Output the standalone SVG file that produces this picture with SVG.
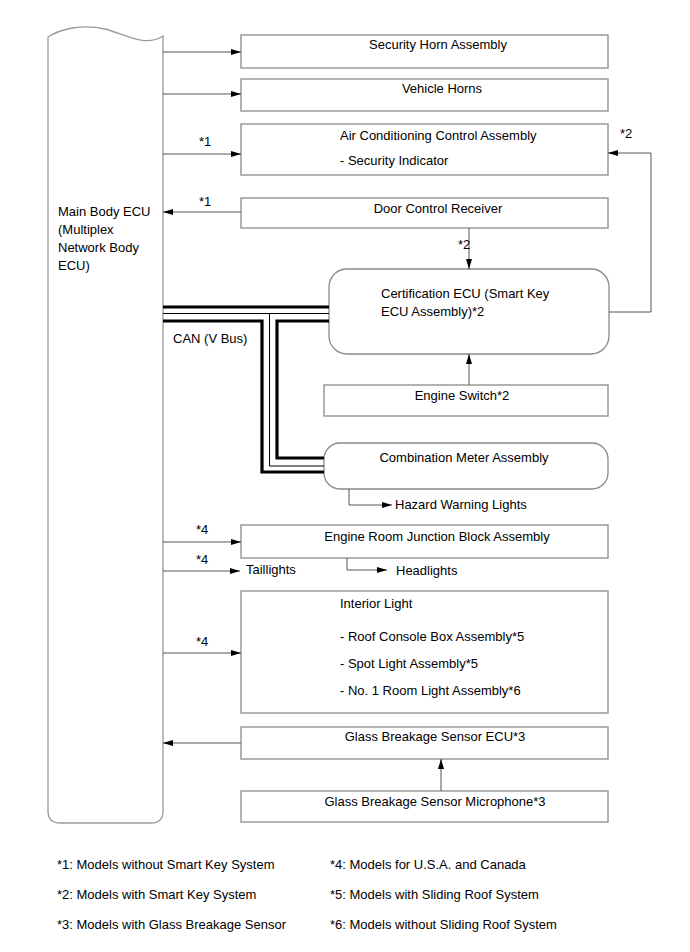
<svg xmlns="http://www.w3.org/2000/svg" width="690" height="952" viewBox="0 0 690 952">
<style>
.box{fill:#fff;stroke:#8a8a8a;stroke-width:1.3}
.ecu{fill:#fff;stroke:#9a9a9a;stroke-width:1.3}
.t{font-family:"Liberation Sans",Arial,sans-serif;font-size:13px;fill:#000}
.c{text-anchor:middle}
.ln{fill:none;stroke:#555;stroke-width:1}
.thk{fill:none;stroke:#000;stroke-width:3.2}
.thn{fill:none;stroke:#000;stroke-width:1}
</style>
<defs>
<marker id="ah" viewBox="0 0 10 6" refX="10" refY="3" markerWidth="10" markerHeight="6" markerUnits="userSpaceOnUse" orient="auto">
<path d="M0,0 L10,3 L0,6 Z" fill="#000"/>
</marker>
</defs>
<rect width="690" height="952" fill="#fff"/>

<g id="main-body-ecu">
<path class="ecu" d="M48,37 C62,28 85,24 105,29 C125,34 145,48 163,36 L163,811 Q163,823 151,823 L60,823 Q48,823 48,811 Z"/>
<text class="t" x="58" y="216">Main Body ECU</text>
<text class="t" x="58" y="234">(Multiplex</text>
<text class="t" x="58" y="252">Network Body</text>
<text class="t" x="58" y="270">ECU)</text>
</g>

<g id="security-horn">
<rect class="box" x="241" y="35" width="367" height="33"/>
<text class="t c" x="438" y="49">Security Horn Assembly</text>
</g>
<g id="vehicle-horns">
<rect class="box" x="241" y="79" width="367" height="32"/>
<text class="t c" x="442" y="93">Vehicle Horns</text>
</g>
<g id="air-conditioning">
<rect class="box" x="241" y="124" width="367" height="51"/>
<text class="t" x="340" y="140">Air Conditioning Control Assembly</text>
<text class="t" x="340" y="165">- Security Indicator</text>
</g>
<g id="door-control-receiver">
<rect class="box" x="241" y="198" width="367" height="30"/>
<text class="t c" x="438" y="213">Door Control Receiver</text>
</g>
<g id="certification-ecu">
<rect class="box" x="329" y="269" width="280" height="85" rx="18"/>
<text class="t" x="381" y="298">Certification ECU (Smart Key</text>
<text class="t" x="381" y="316">ECU Assembly)*2</text>
</g>
<g id="engine-switch">
<rect class="box" x="324" y="385" width="284" height="31"/>
<text class="t c" x="462" y="400">Engine Switch*2</text>
</g>
<g id="combination-meter">
<rect class="box" x="324" y="443" width="284" height="46" rx="16"/>
<text class="t c" x="464" y="462">Combination Meter Assembly</text>
</g>
<g id="engine-room-jb">
<rect class="box" x="241" y="525" width="367" height="33"/>
<text class="t c" x="437" y="541">Engine Room Junction Block Assembly</text>
</g>
<g id="interior-light">
<rect class="box" x="241" y="591" width="367" height="122"/>
<text class="t" x="340" y="608">Interior Light</text>
<text class="t" x="340" y="641">- Roof Console Box Assembly*5</text>
<text class="t" x="340" y="668">- Spot Light Assembly*5</text>
<text class="t" x="340" y="695">- No. 1 Room Light Assembly*6</text>
</g>
<g id="glass-breakage-ecu">
<rect class="box" x="241" y="727" width="367" height="32"/>
<text class="t c" x="435" y="741">Glass Breakage Sensor ECU*3</text>
</g>
<g id="glass-breakage-mic">
<rect class="box" x="241" y="791" width="367" height="31"/>
<text class="t c" x="435" y="806">Glass Breakage Sensor Microphone*3</text>
</g>

<g id="connectors">
<line class="ln" x1="163" y1="52" x2="241" y2="52" marker-end="url(#ah)"/>
<line class="ln" x1="163" y1="94" x2="241" y2="94" marker-end="url(#ah)"/>
<line class="ln" x1="163" y1="154" x2="241" y2="154" marker-end="url(#ah)"/>
<line class="ln" x1="241" y1="212" x2="163" y2="212" marker-end="url(#ah)"/>
<line class="ln" x1="469" y1="228" x2="469" y2="269" marker-end="url(#ah)"/>
<polyline class="ln" points="609,312 651,312 651,153 608,153" marker-end="url(#ah)"/>
<line class="ln" x1="469" y1="385" x2="469" y2="354" marker-end="url(#ah)"/>
<polyline class="ln" points="349,489 349,505 392,505" marker-end="url(#ah)"/>
<line class="ln" x1="163" y1="542" x2="241" y2="542" marker-end="url(#ah)"/>
<line class="ln" x1="163" y1="571" x2="240" y2="571" marker-end="url(#ah)"/>
<polyline class="ln" points="347,558 347,570 387,570" marker-end="url(#ah)"/>
<line class="ln" x1="163" y1="653" x2="241" y2="653" marker-end="url(#ah)"/>
<line class="ln" x1="241" y1="743" x2="163" y2="743" marker-end="url(#ah)"/>
<line class="ln" x1="441" y1="791" x2="441" y2="759" marker-end="url(#ah)"/>
<!-- CAN bus -->
<line class="thk" x1="163" y1="307" x2="329" y2="307"/>
<line class="thn" x1="163" y1="313.5" x2="329" y2="313.5"/>
<polyline class="thk" points="163,321 262,321 262,472 324,472"/>
<polyline class="thn" points="269.5,313.5 269.5,466 324,466"/>
<polyline class="thk" points="329,321 277,321 277,458 324,458"/>
<text class="t" x="199" y="146">*1</text>
<text class="t" x="199" y="206">*1</text>
<text class="t" x="458" y="249">*2</text>
<text class="t" x="620" y="138">*2</text>
<text class="t" x="173" y="343">CAN (V Bus)</text>
<text class="t" x="395" y="509">Hazard Warning Lights</text>
<text class="t" x="196" y="534">*4</text>
<text class="t" x="196" y="564">*4</text>
<text class="t" x="246" y="574">Taillights</text>
<text class="t" x="396" y="575">Headlights</text>
<text class="t" x="196" y="646">*4</text>
</g>

<g id="legend">
<text class="t" x="57" y="869">*1: Models without Smart Key System</text>
<text class="t" x="57" y="899">*2: Models with Smart Key System</text>
<text class="t" x="57" y="929">*3: Models with Glass Breakage Sensor</text>
<text class="t" x="330" y="869">*4: Models for U.S.A. and Canada</text>
<text class="t" x="330" y="899">*5: Models with Sliding Roof System</text>
<text class="t" x="330" y="929">*6: Models without Sliding Roof System</text>
</g>
</svg>
